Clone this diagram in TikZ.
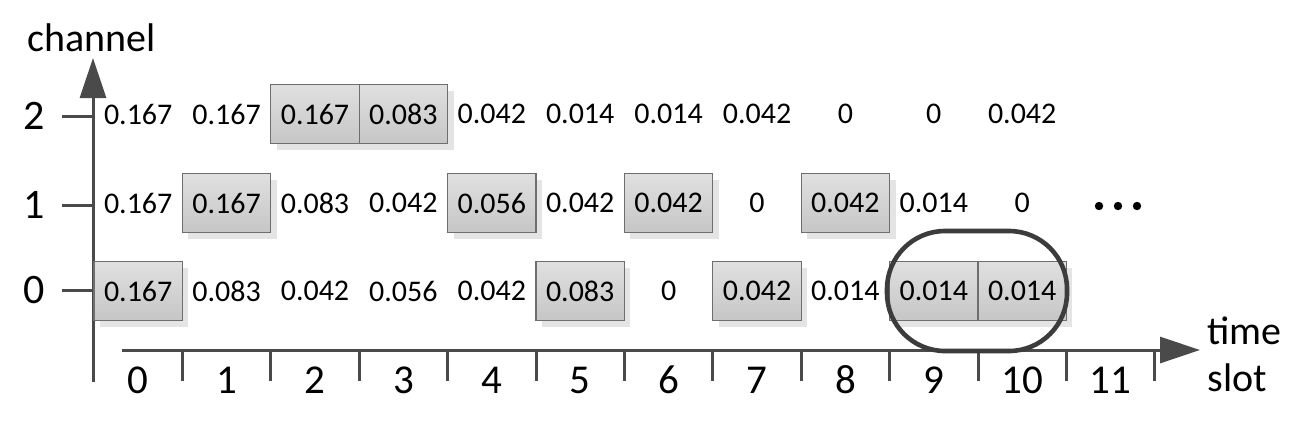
\documentclass[tikz,border=0pt]{standalone}
\usepackage{fontspec}
\setmainfont{Carlito}
\usetikzlibrary{shadows,arrows.meta}
\definecolor{axisgray}{HTML}{4A4A4A}
\definecolor{boxedge}{HTML}{6E6E6E}
\definecolor{boxtop}{HTML}{E0E0E0}
\definecolor{boxbot}{HTML}{C6C6C6}
\definecolor{shadowgray}{HTML}{E4E4E4}
\definecolor{selgray}{HTML}{3C3C3C}
\begin{document}
\begin{tikzpicture}[x=0.5pt,y=-0.5pt,
  val/.style={font=\fontsize{15}{16}\selectfont, inner sep=0pt},
  cell/.style={val, draw=boxedge, line width=0.6pt, top color=boxtop, bottom color=boxbot,
    minimum width=44.2pt, minimum height=29.5pt,
    drop shadow={shadow xshift=3pt, shadow yshift=-3pt, fill=shadowgray, opacity=1}},
  axis/.style={draw=axisgray, line width=1.5pt},
  tip/.style={-{Triangle[length=20pt,width=13pt]}},
  lab/.style={font=\fontsize{21}{23}\selectfont, inner sep=0pt},
  tlab/.style={font=\fontsize{20.5}{22}\selectfont, inner sep=0pt},
  word/.style={font=\fontsize{20}{23.5}\selectfont, inner sep=0pt, align=left},
  dot/.style={circle, fill=black, inner sep=0pt, minimum size=4.2pt}]
\useasboundingbox (0,0) rectangle (1316,425);

% axes
\coordinate (yb) at (93,382);
\coordinate (yt) at (93,58);
\coordinate (xl) at (122,350);
\coordinate (xr) at (1200,350);
\draw[axis,tip] (yb) -- (yt);
\draw[axis,tip] (xl) -- (xr);

\node[word, anchor=south] (chan) at (92,52) {channel};
\node[word, anchor=west] (ts) at (1207,354) {time\\slot};

% channel ticks and labels
\foreach \c/\y in {2/116,1/205,0/290}{
  \node[lab] (ch\c) at (34,\y) {\c};
  \coordinate (cht\c) at (62,\y);
  \coordinate (cha\c) at (93,\y);
  \draw[axis] (cht\c) -- (cha\c);
}

% time ticks and labels
\foreach \k in {1,...,12}{
  \coordinate (tt\k) at (94+88.4*\k,350);
  \draw[axis] (tt\k) -- ++(0,31);
}
\foreach \k in {0,...,11}{
  \node[tlab] (t\k) at (138.2+88.4*\k,380) {\k};
}

% row 2
\foreach \v/\s [count=\i from 0] in {0.167/val,0.167/val,0.167/cell,0.083/cell,0.042/val,0.014/val,0.014/val,0.042/val,0/val,0/val,0.042/val}{
  \node[\s] (r2c\i) at (138.2+88.4*\i,114) {\v};
}
% row 1
\foreach \v/\s [count=\i from 0] in {0.167/val,0.167/cell,0.083/val,0.042/val,0.056/cell,0.042/val,0.042/cell,0/val,0.042/cell,0.014/val,0/val}{
  \node[\s] (r1c\i) at (138.2+88.4*\i,203) {\v};
}
% row 0
\foreach \v/\s [count=\i from 0] in {0.167/cell,0.083/val,0.042/val,0.056/val,0.042/val,0.083/cell,0/val,0.042/cell,0.014/val,0.014/cell,0.014/cell}{
  \node[\s] (r0c\i) at (138.2+88.4*\i,291) {\v};
}

% dots
\node[dot] (d1) at (1099,206) {};
\node[dot] (d2) at (1118,206) {};
\node[dot] (d3) at (1137,206) {};

% selection
\node[draw=selgray, line width=2.3pt, rounded corners=29pt, minimum width=90pt, minimum height=60pt, inner sep=0pt] (sel) at (977,291) {};
\end{tikzpicture}
\end{document}
